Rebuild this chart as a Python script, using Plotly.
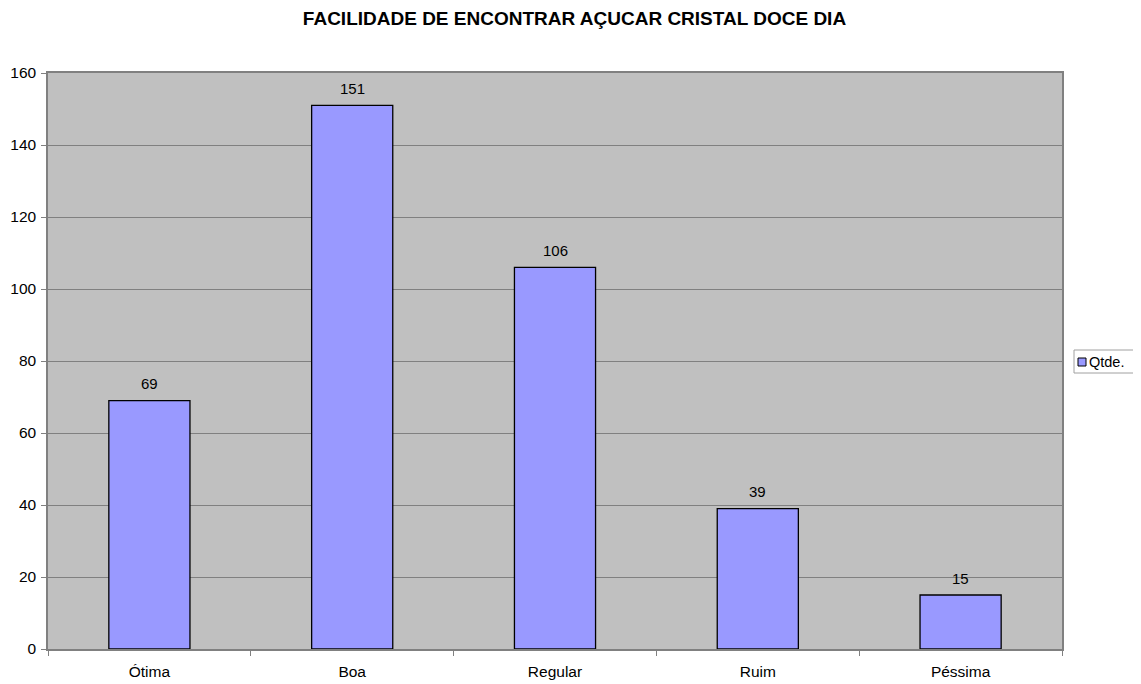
import plotly.graph_objects as go

categories = ["Ótima", "Boa", "Regular", "Ruim", "Péssima"]
values = [69, 151, 106, 39, 15]
series_name = "Qtde."
y_ticks = [0, 20, 40, 60, 80, 100, 120, 140, 160]

# figure is placed at the page's 8px body margin
W, H = 1133, 676
L, R, T, B = 40, 79, 65, 35
pw = W - L - R
ph = H - T - B

fig = go.Figure()
fig.add_trace(go.Bar(
    x=categories, y=values, name=series_name,
    marker=dict(color="#9999ff", line=dict(color="#000000", width=1.3)),
    showlegend=False,
))

for c, v in zip(categories, values):
    fig.add_annotation(x=c, y=v, text=str(v), showarrow=False, yanchor="middle",
                       yshift=17, font=dict(size=15, color="#000"))

fig.update_layout(
    width=W, height=H,
    margin=dict(l=L, r=R, t=T, b=B, autoexpand=False),
    paper_bgcolor="white", plot_bgcolor="#c0c0c0",
    bargap=0.6,
    font=dict(family="Arial, Liberation Sans", size=15, color="#000"),
    title=dict(text="<b>FACILIDADE DE ENCONTRAR AÇUCAR CRISTAL DOCE DIA</b>",
               x=0.5, xanchor="center", y=1 - 10 / H, yanchor="middle",
               font=dict(size=19, color="#000")),
    xaxis=dict(showline=True, linecolor="#808080", linewidth=1.5, mirror=True,
               ticks="outside", tickson="boundaries", ticklen=5, tickcolor="#808080",
               showgrid=False, tickfont=dict(size=15.5), automargin=False,
               ticklabelstandoff=8),
    yaxis=dict(range=[0, 160], tickvals=y_ticks, showline=True, linecolor="#808080",
               linewidth=1.5, mirror=True, ticks="outside", ticklen=5, tickcolor="#808080",
               showgrid=True, gridcolor="#808080", gridwidth=1, zeroline=False,
               tickfont=dict(size=15.5), automargin=False, ticklabelstandoff=2),
)

# custom legend box (pixel positions relative to plot area)
def px(x):
    return 1 + x / pw

def py(y):
    return (ph - y) / ph

fig.add_shape(type="rect", xref="paper", yref="paper", x0=px(12), x1=px(76),
              y0=py(300), y1=py(277),
              line=dict(color="#a0a0a0", width=1), fillcolor="white")
fig.add_shape(type="rect", xref="paper", yref="paper", x0=px(16), x1=px(24),
              y0=py(293), y1=py(285),
              line=dict(color="#000", width=1), fillcolor="#9999ff")
fig.add_annotation(text=series_name, xref="paper", yref="paper", x=px(25),
                   y=py(288.5), xanchor="left", yanchor="middle", showarrow=False,
                   font=dict(size=14.5, color="#000"))

fig.write_html("out.html")
